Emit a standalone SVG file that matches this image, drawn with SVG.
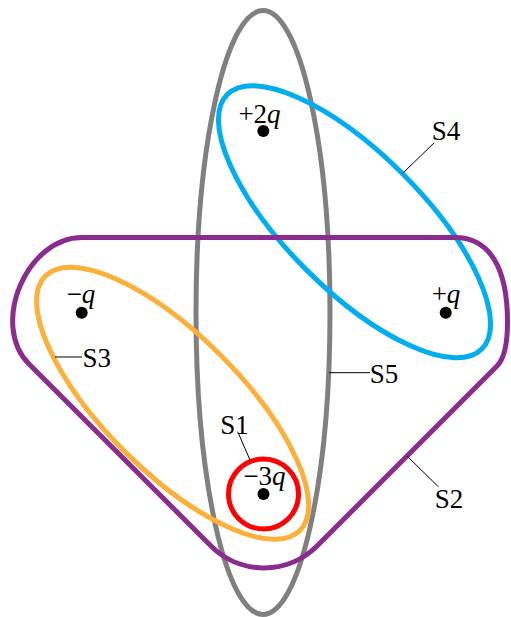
<svg xmlns="http://www.w3.org/2000/svg" width="511" height="617" viewBox="0 0 511 617">
  <style>
    .surf { fill: none; stroke-width: 5; }
    .lbl { font-family: "Liberation Serif", "DejaVu Serif", "Times New Roman", serif; font-size: 27px; fill: #000; text-anchor: middle; }
    .it { font-style: italic; }
    .lead { stroke: #000; stroke-width: 1; fill: none; }
    .dot { fill: #000; }
  </style>
  <rect x="0" y="0" width="511" height="617" fill="#fff"/>

  <g id="S5">
    <ellipse class="surf" cx="263" cy="312.5" rx="67" ry="302" stroke="#808080" stroke-width="5.5"/>
  </g>
  <g id="S4">
    <ellipse class="surf" cx="354.5" cy="221.8" rx="180" ry="68" transform="rotate(45 354.5 221.8)" stroke="#00ADEF"/>
  </g>
  <g id="S3">
    <ellipse class="surf" cx="172.6" cy="403.3" rx="180" ry="68" transform="rotate(45 172.6 403.3)" stroke="#FBB03B"/>
  </g>
  <g id="S1">
    <circle class="surf" cx="263.5" cy="494" r="35" stroke="#FF0000" stroke-width="5.5"/>
  </g>
  <g id="S2">
    <path class="surf" stroke="#8B2B8E" d="M 82 237.5 H 455 C 489.1 237.5 507.5 267.1 507.5 322 C 507.5 338 506 357 497 366 L 317 546 A 75 75 0 0 1 211 546 L 29 364 C -10.2 324.8 26.5 237.5 82 237.5 Z"/>
  </g>

  <g id="charge-plus2q">
    <circle class="dot" cx="263.3" cy="131" r="6"/>
    <text class="lbl" x="259.5" y="123">+2<tspan class="it">q</tspan></text>
  </g>
  <g id="charge-minusq">
    <circle class="dot" cx="81.7" cy="312.7" r="6"/>
    <text class="lbl" x="81" y="303">−<tspan class="it">q</tspan></text>
  </g>
  <g id="charge-plusq">
    <circle class="dot" cx="445.7" cy="312.7" r="6"/>
    <text class="lbl" x="446" y="303">+<tspan class="it">q</tspan></text>
  </g>
  <g id="charge-minus3q">
    <circle class="dot" cx="263.5" cy="494" r="6"/>
    <text class="lbl" x="264.5" y="485">−3<tspan class="it">q</tspan></text>
  </g>

  <g id="connectors">
    <line class="lead" x1="402.7" y1="173.3" x2="434.3" y2="142.7"/>
    <line class="lead" x1="55" y1="357" x2="82" y2="357"/>
    <line class="lead" x1="329" y1="372.7" x2="370" y2="372.7"/>
    <line class="lead" x1="407" y1="456" x2="438.3" y2="486.7"/>
    <line class="lead" x1="250" y1="460" x2="237.7" y2="431.7"/>
  </g>

  <g id="labels">
    <text class="lbl" x="446" y="140">S4</text>
    <text class="lbl" x="96.7" y="367">S3</text>
    <text class="lbl" x="384" y="382.5">S5</text>
    <text class="lbl" x="449" y="508">S2</text>
    <text class="lbl" x="234.5" y="434">S1</text>
  </g>
</svg>
